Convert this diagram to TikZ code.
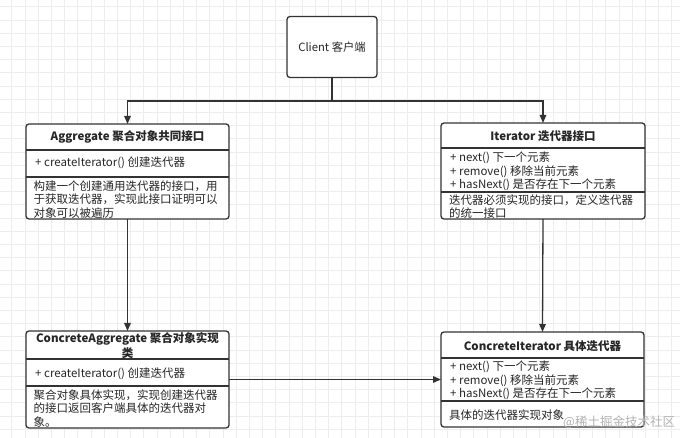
\documentclass[tikz,border=0pt]{standalone}
\usepackage{fontspec}
\setmainfont{Noto Sans CJK SC}
\usetikzlibrary{arrows.meta}
\definecolor{ink}{HTML}{333333}
\definecolor{gridc}{HTML}{EDEDED}
\begin{document}
\begin{tikzpicture}[x=1pt,y=-1pt,
  box/.style={draw=ink, line width=1.3pt, rounded corners=3pt, fill=white, inner sep=0pt, outer sep=0pt},
  sep/.style={draw=ink, line width=1.1pt},
  arr/.style={draw=ink, line width=1.3pt, -{Triangle[length=8pt,width=6.5pt]}},
  ln/.style={draw=ink, line width=1.3pt},
  txt/.style={anchor=west, inner sep=0pt, font=\fontsize{11.5}{13}\selectfont, text=black!85},
  hdr/.style={anchor=center, inner sep=0pt, font=\fontsize{11.5}{13}\selectfont\bfseries, text=black!85},
  wm/.style={anchor=west, inner sep=0pt, font=\fontsize{12.5}{14}\selectfont, text=black!30}
]
\useasboundingbox (0,0) rectangle (680,438);
\fill[white] (0,0) rectangle (680,438);
\foreach \i in {0,...,51} {\draw[gridc, line width=0.6pt] ({11.7+13.2*\i},0) -- ++(0,438);}
\foreach \i in {0,...,32} {\draw[gridc, line width=0.6pt] (0,{6.7+13.2*\i}) -- ++(680,0);}

% Client
\node[box, minimum width=90pt, minimum height=61pt, font=\fontsize{11.3}{13}\selectfont, text=black!85] (client) at (332,47) {Client 客户端};

% Aggregate
\node[box, minimum width=203pt, minimum height=95pt] (agg) at (127.5,171.5) {};
\draw[sep] (26,150) -- (229,150);
\draw[sep] (26,177) -- (229,177);
\node[hdr] (aggh) at (127.5,137) {Aggregate 聚合对象共同接口};
\node[txt] (aggm) at (35,163) {+ createIterator() 创建迭代器};
\node[txt] (aggd1) at (33.5,186) {构建一个创建通用迭代器的接口，用};
\node[txt] (aggd2) at (33.5,199.5) {于获取迭代器，实现此接口证明可以};
\node[txt] (aggd3) at (33.5,213) {对象可以被遍历};

% Iterator
\node[box, minimum width=204pt, minimum height=96pt] (it) at (543,171) {};
\draw[sep] (441,148) -- (645,148);
\draw[sep] (441,192) -- (645,192);
\node[hdr] (ith) at (543,136) {Iterator 迭代器接口};
\node[txt] (itm1) at (450,157.5) {+ next() 下一个元素};
\node[txt] (itm2) at (450,171.5) {+ remove() 移除当前元素};
\node[txt] (itm3) at (450,185) {+ hasNext() 是否存在下一个元素};
\node[txt] (itd1) at (449,200) {迭代器必须实现的接口，定义迭代器};
\node[txt] (itd2) at (449,213.5) {的统一接口};

% ConcreteAggregate
\node[box, minimum width=203pt, minimum height=97pt] (cagg) at (127.5,379.5) {};
\draw[sep] (26,359) -- (229,359);
\draw[sep] (26,386) -- (229,386);
\node[hdr] (caggh1) at (127.5,339) {ConcreteAggregate 聚合对象实现};
\node[hdr] (caggh2) at (127.5,353) {类};
\node[txt] (caggm) at (35,373.5) {+ createIterator() 创建迭代器};
\node[txt] (caggd1) at (33.5,395) {聚合对象具体实现，实现创建迭代器};
\node[txt] (caggd2) at (33.5,408.5) {的接口返回客户端具体的迭代器对};
\node[txt] (caggd3) at (33.5,422) {象。};

% ConcreteIterator
\node[box, minimum width=203pt, minimum height=95pt] (cit) at (542.5,379.5) {};
\draw[sep] (441,358) -- (644,358);
\draw[sep] (441,401) -- (644,401);
\node[hdr] (cith) at (542.5,346.5) {ConcreteIterator 具体迭代器};
\node[txt] (citm1) at (450,367) {+ next() 下一个元素};
\node[txt] (citm2) at (450,380.5) {+ remove() 移除当前元素};
\node[txt] (citm3) at (450,394) {+ hasNext() 是否存在下一个元素};
\node[txt] (citd1) at (449,415) {具体的迭代器实现对象};

% connectors
\coordinate (j) at (332,101);
\draw[ln] (client.south) -- (j);
\draw[arr] (j) -| (agg.north);
\draw[arr] (j) -| (it.north);
\draw[arr] (agg.south) -- (cagg.north);
\draw[arr] (it.south) -- (cit.north);
\draw[arr] (cagg.east) -- (cit.west);

% watermark
\node[wm] (wmk) at (563,422) {@稀土掘金技术社区};
\end{tikzpicture}
\end{document}
